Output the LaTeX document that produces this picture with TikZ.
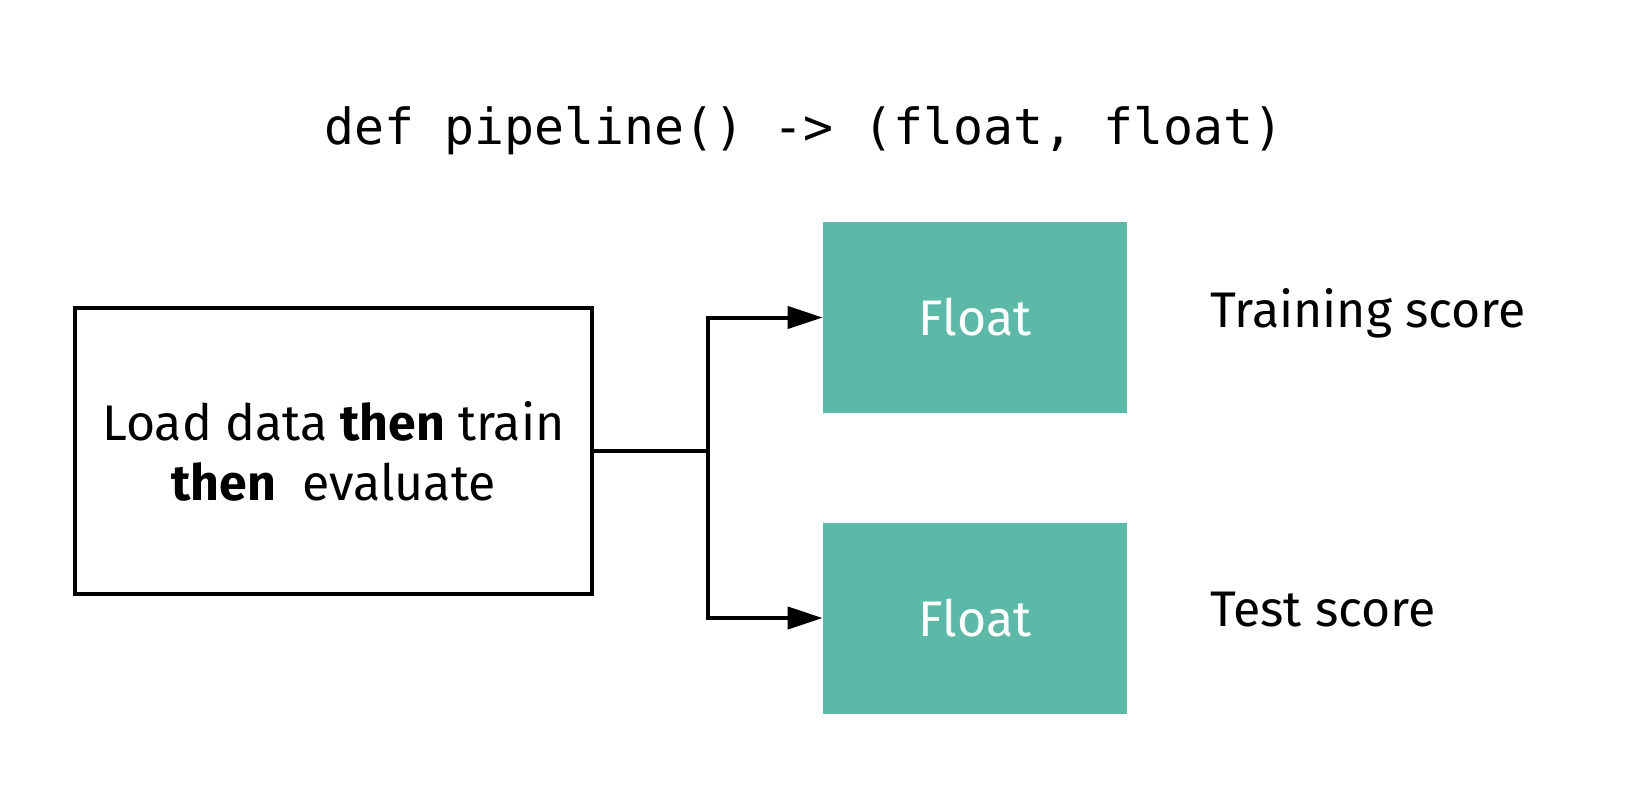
\documentclass[tikz,border=0pt]{standalone}
\usepackage{fontspec}
\setmainfont{Fira Sans}
\setmonofont{DejaVu Sans Mono}
\usepackage{tikz}
\usetikzlibrary{arrows.meta, positioning}
\definecolor{floatteal}{RGB}{92,185,167}

\begin{document}
\begin{tikzpicture}[x=0.5pt, y=-0.5pt,
    stagebox/.style={draw=black, line width=2pt, minimum width=258.5pt, minimum height=143pt, align=center, font=\fontsize{25}{30}\selectfont},
    floatbox/.style={fill=floatteal, minimum width=152pt, minimum height=95.5pt, text=white, font=\fontsize{25}{30}\selectfont},
    scorelabel/.style={anchor=west, font=\fontsize{25}{30}\selectfont},
    link/.style={line width=2pt, -{Triangle[length=17.5pt, width=11pt]}}]
    \useasboundingbox (0,0) rectangle (1637,788);

    % Title
    \node (title) at (804,131) {\fontsize{24.9}{30}\selectfont\ttfamily def pipeline() -> (float, float)};

    % Pipeline
    \node[stagebox] (stage) at (333.5,451) {Load data \textbf{then} train\\ \textbf{then}\ \ evaluate};

    % Outputs
    \node[floatbox] (train) at (975,317.5) {Float};
    \node[floatbox] (test) at (975,618) {Float};

    \node[scorelabel] (trainlbl) at (1203,313) {Training score};
    \node[scorelabel] (testlbl) at (1203,610) {Test score};

    % Branch
    \coordinate (split) at (708,451);
    \draw[line width=2pt] (stage.east) -- (split);
    \draw[link] (split) |- (train.west);
    \draw[link] (split) |- (test.west);
\end{tikzpicture}
\end{document}
